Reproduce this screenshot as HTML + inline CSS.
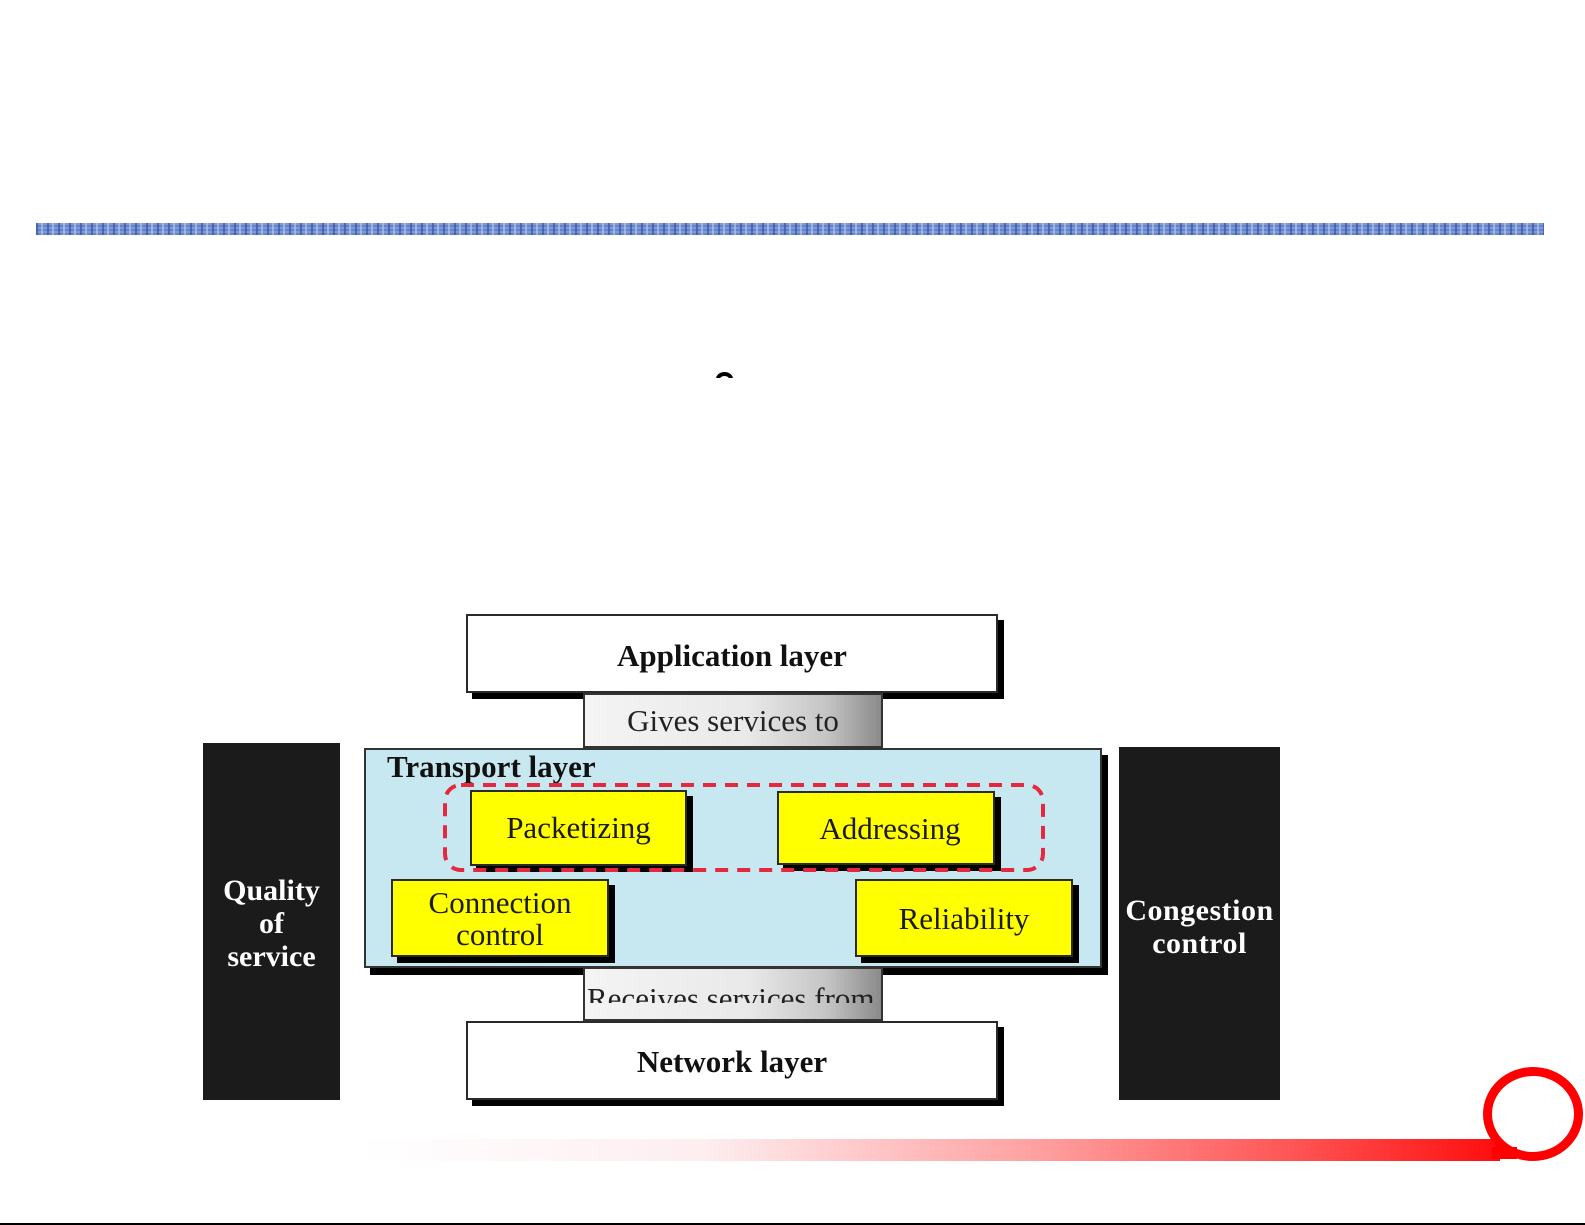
<!DOCTYPE html>
<html>
<head>
<meta charset="utf-8">
<style>
  html, body { margin:0; padding:0; }
  body { width:1585px; height:1225px; position:relative; overflow:hidden; background:#fff; font-family:"Liberation Serif", serif; }
  .abs { position:absolute; box-sizing:border-box; }
  .bar {
    left:36px; top:223px; width:1508px; height:12px;
    background-color:#7d9ad6;
    background-image:
      repeating-linear-gradient(90deg, rgba(40,70,150,0.55) 0 2px, transparent 2px 5px, rgba(200,215,245,0.5) 5px 7px, transparent 7px 11px),
      repeating-linear-gradient(0deg, rgba(60,90,170,0.35) 0 2px, transparent 2px 4px);
  }
  .wbox { background:#fff; border:2px solid #2a2a2a; box-shadow:6px 6px 0 #000; }
  .ybox { background:#ffff00; border:2px solid #2a2a2a; box-shadow:6px 6px 0 #000; color:#1a1a1a; font-size:31px; text-align:center; }
  .gbox { background:linear-gradient(90deg, #f4f4f4 0%, #e9e9e9 55%, #c4c4c4 82%, #8a8a8a 100%); border:2px solid #333; }
  .dark { background:#1b1b1b; color:#fff; font-weight:bold; font-size:30px; text-align:center; line-height:33px; }
  .t { position:absolute; white-space:nowrap; line-height:1; }
</style>
</head>
<body>

<div class="abs bar"></div>

<!-- clipped glyph fragment -->
<div class="abs" style="left:716px; top:372px; width:17px; height:6px; overflow:hidden;">
  <div style="position:absolute; left:0; top:0; width:17px; height:14px; box-sizing:border-box; border:4px solid #000; border-radius:50%;"></div>
</div>

<!-- Quality of service -->
<div class="abs dark" style="left:203px; top:743px; width:137px; height:357px; padding-top:131px;">Quality<br>of<br>service</div>

<!-- Congestion control -->
<div class="abs dark" style="left:1119px; top:747px; width:161px; height:353px; padding-top:147px; letter-spacing:0.5px;">Congestion<br>control</div>

<!-- Application layer -->
<div class="abs wbox" style="left:466px; top:614px; width:532px; height:79px;"></div>
<div class="t" style="left:466px; width:532px; text-align:center; top:640px; font-size:31px; font-weight:bold; color:#111;">Application layer</div>

<!-- Transport layer -->
<div class="abs" style="left:364px; top:748px; width:738px; height:220px; background:#c8e8f1; border:2px solid #333; box-shadow:6px 7px 0 #000;"></div>
<div class="t" style="left:387px; top:751px; font-size:31px; font-weight:bold; color:#111;">Transport layer</div>

<!-- Gives services to -->
<div class="abs gbox" style="left:583px; top:693px; width:300px; height:55px;"></div>
<div class="t" style="left:583px; width:300px; text-align:center; top:705px; font-size:31px; color:#222;">Gives services to</div>

<!-- Yellow boxes -->
<div class="abs ybox" style="left:470px; top:790px; width:217px; height:76px; line-height:72px;">Packetizing</div>
<div class="abs ybox" style="left:777px; top:791px; width:218px; height:74px; line-height:72px; padding-left:8px;">Addressing</div>
<div class="abs ybox" style="left:391px; top:879px; width:218px; height:78px; line-height:32px; padding-top:6px;">Connection<br>control</div>
<div class="abs ybox" style="left:855px; top:879px; width:218px; height:78px; line-height:76px;">Reliability</div>

<!-- dashed group -->
<svg class="abs" style="left:0; top:0;" width="1585" height="1225">
  <rect x="445" y="785" width="598" height="85" rx="16" ry="16" fill="none" stroke="#e4283e" stroke-width="4" stroke-dasharray="13 9"/>
</svg>

<!-- Receives services from -->
<div class="abs gbox" style="left:583px; top:967px; width:300px; height:54px;"></div>
<div class="abs" style="left:585px; top:969px; width:296px; height:34px; overflow:hidden;">
  <div class="t" style="left:2px; top:14px; font-size:31px; color:#222;">Receives services from</div>
</div>

<!-- Network layer -->
<div class="abs wbox" style="left:466px; top:1021px; width:532px; height:79px;"></div>
<div class="t" style="left:466px; width:532px; text-align:center; top:1046px; font-size:31px; font-weight:bold; color:#111;">Network layer</div>

<!-- bottom decoration -->
<div class="abs" style="left:360px; top:1139px; width:1140px; height:22px; background:linear-gradient(90deg, #ffffff 0%, #fdeef0 30%, #ff9e9e 60%, #ff5454 82%, #ff0d0d 100%);"></div>
<div class="abs" style="left:1492px; top:1147px; width:25px; height:12px; background:#ff0000;"></div>
<svg class="abs" style="left:0; top:0;" width="1585" height="1225">
  <ellipse cx="1533" cy="1114" rx="45.5" ry="42.5" fill="none" stroke="#ff0000" stroke-width="9"/>
</svg>

<div class="abs" style="left:0; top:1223px; width:1585px; height:2px; background:#000;"></div>

</body>
</html>
